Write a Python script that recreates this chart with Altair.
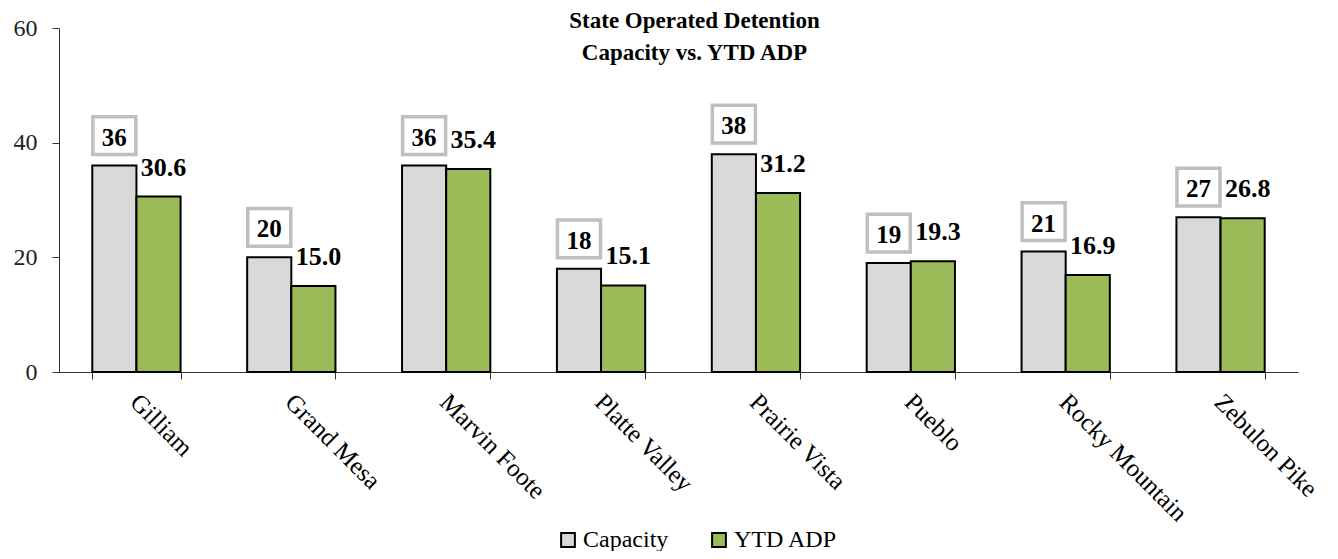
import altair as alt
import pandas as pd

facilities = ["Gilliam", "Grand Mesa", "Marvin Foote", "Platte Valley",
              "Prairie Vista", "Pueblo", "Rocky Mountain", "Zebulon Pike"]
capacity = [36, 20, 36, 18, 38, 19, 21, 27]
ytd_adp = [30.6, 15.0, 35.4, 15.1, 31.2, 19.3, 16.9, 26.8]
series = ["Capacity", "YTD ADP"]
colors = ["#D9D9D9", "#9BBB59"]
y_ticks = [0, 20, 40, 60]

rows = []
for f, c, a in zip(facilities, capacity, ytd_adp):
    rows.append({"facility": f, "series": "Capacity", "value": c, "label": f"{c:d}"})
    rows.append({"facility": f, "series": "YTD ADP", "value": a, "label": f"{a:.1f}"})
df = pd.DataFrame(rows)

FONT = "Liberation Serif"

x = alt.X("facility:N", sort=facilities,
          scale=alt.Scale(paddingInner=0.43, paddingOuter=0.215),
          axis=alt.Axis(title=None, labelAngle=45, labelAlign="left",
                        labelBaseline="top", labelPadding=10, labelOffset=6,
                        labelFontSize=25,
                        labelFont=FONT, labelColor="black", tickBand="extent",
                        tickSize=7, tickColor="#333", domainColor="#333",
                        labelOverlap=False))
y = alt.Y("value:Q", scale=alt.Scale(domain=[0, 60], nice=False),
          axis=alt.Axis(title=None, values=y_ticks, grid=False, tickSize=7,
                        labelPadding=15, labelFontSize=24, labelFont=FONT,
                        labelColor="#222", tickColor="#333", domainColor="#333"))
xo = alt.XOffset("series:N", sort=series, scale=alt.Scale(domain=series))

base = alt.Chart(df)

bars = base.mark_bar(stroke="black", strokeWidth=2).encode(
    x=x, y=y, xOffset=xo,
    color=alt.Color("series:N", sort=series,
                    scale=alt.Scale(domain=series, range=colors),
                    legend=alt.Legend(title=None, orient="none", direction="horizontal",
                                      legendX=497, legendY=500,
                                      symbolType="square", symbolSize=190,
                                      symbolStrokeColor="black", symbolStrokeWidth=2,
                                      labelFont=FONT, labelFontSize=24,
                                      labelColor="black", columnPadding=38,
                                      labelOffset=3)),
)

cap_only = base.transform_filter(alt.datum.series == "Capacity")
adp_only = base.transform_filter(alt.datum.series == "YTD ADP")

boxes = cap_only.mark_point(
    shape="M-1,-0.88L1,-0.88L1,0.88L-1,0.88Z", size=1849, filled=True,
    fill="white", stroke="#BFBFBF", strokeWidth=3.5, opacity=1, yOffset=-30,
).encode(x=x, y=y, xOffset=xo)

cap_text = cap_only.mark_text(
    font=FONT, fontSize=25, fontWeight="bold", color="black",
    baseline="middle", dy=-28,
).encode(x=x, y=y, xOffset=xo, text="label:N")

adp_text = adp_only.mark_text(
    font=FONT, fontSize=26, fontWeight="bold", color="black",
    baseline="middle", dy=-29, dx=5,
).encode(x=x, y=y, xOffset=xo, text="label:N")

chart = alt.layer(bars, boxes, cap_text, adp_text).properties(
    width=1239, height=344,
    autosize=alt.AutoSizeParams(type="none"),
    padding={"left": 51, "top": 20, "right": 30, "bottom": 179},
    title=alt.TitleParams(
        ["State Operated Detention", "Capacity vs. YTD ADP"],
        font=FONT, fontSize=23, fontWeight="bold", color="black",
        anchor="middle", dx=16, dy=53, lineHeight=32,
    ),
).configure_view(stroke=None).configure_axis(
    domainWidth=1, tickWidth=1
).configure_legend(labelFont=FONT, labelFontSize=24, labelColor="black")

chart.save("out.html", embed_options={"renderer": "svg", "actions": False})
